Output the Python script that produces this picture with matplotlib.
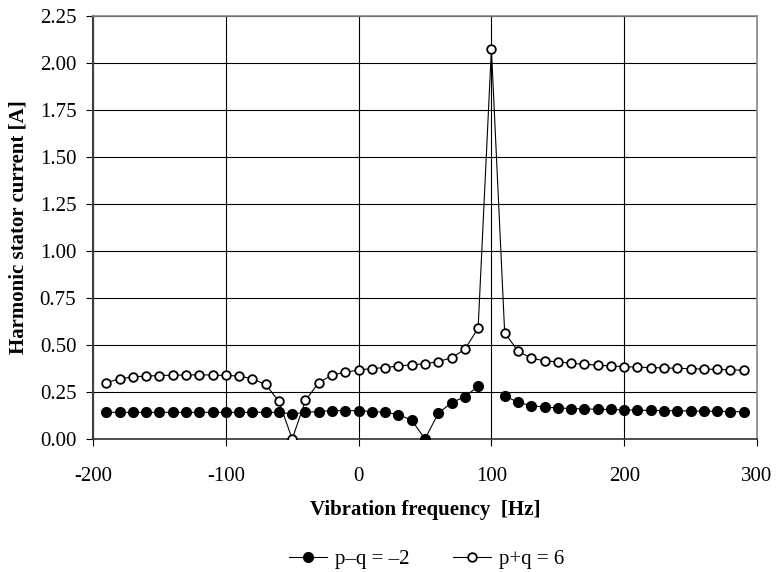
import numpy as np
import matplotlib
matplotlib.use("Agg")
import matplotlib.pyplot as plt

# vibration frequency [Hz]
freq = np.arange(-190, 300, 10)

# p-q = -2 (filled markers), no point at 100 Hz
pq_minus = [0.142, 0.142, 0.142, 0.142, 0.142, 0.142, 0.142, 0.142, 0.142, 0.142,
            0.142, 0.142, 0.142, 0.142, 0.133, 0.142, 0.146, 0.151, 0.151, 0.151,
            0.146, 0.142, 0.130, 0.100, 0.000, 0.137, 0.193, 0.225, 0.280, np.nan,
            0.230, 0.195, 0.177, 0.170, 0.165, 0.162, 0.160, 0.158, 0.157, 0.155,
            0.153, 0.152, 0.151, 0.150, 0.149, 0.148, 0.147, 0.146, 0.145]

# p+q = 6 (open markers)
pq_plus = [0.300, 0.320, 0.330, 0.335, 0.337, 0.340, 0.340, 0.342, 0.340, 0.338,
           0.335, 0.320, 0.290, 0.200, 0.000, 0.205, 0.300, 0.340, 0.355, 0.367,
           0.375, 0.380, 0.388, 0.395, 0.400, 0.412, 0.432, 0.477, 0.589, 2.075,
           0.565, 0.468, 0.430, 0.416, 0.410, 0.403, 0.397, 0.393, 0.388, 0.385,
           0.382, 0.380, 0.378, 0.376, 0.374, 0.372, 0.370, 0.368, 0.366]

xticks = [-200, -100, 0, 100, 200, 300]
xlabels = ['-200', '-100', '0', '100', '200', '300']

plt.rcParams['font.family'] = ['Liberation Serif', 'DejaVu Serif']
plt.rcParams['font.size'] = 15

fig = plt.figure(figsize=(7.76, 5.72), dpi=100)
ax = fig.add_axes([93 / 776, 1 - 439 / 572, (757 - 93) / 776, (439 - 16) / 572])

ax.plot(freq, pq_minus, color='black', lw=0.8, marker='o', ms=7,
        mfc='black', mec='black', label='p\u2013q = \u20132', zorder=3)
ax.plot(freq, pq_plus, color='black', lw=0.8, marker='o', ms=6.2,
        mfc='white', mec='black', mew=1.3, label='p+q = 6', zorder=3)

ax.set_xlim(-200, 300)
ax.set_ylim(0, 2.25)
ax.set_xticks(xticks)
ax.set_xticklabels(xlabels)
ax.set_yticks(np.arange(0, 2.26, 0.25))
ax.yaxis.set_major_formatter(matplotlib.ticker.FormatStrFormatter('%.2f'))
ax.grid(True, color='black', lw=0.8)
ax.set_axisbelow(True)
ax.tick_params(direction='out', length=5, width=0.8, labelsize=15)
ax.tick_params(axis='x', pad=15)
ax.tick_params(axis='y', pad=7)

ax.spines['left'].set_color('#404040')
ax.spines['left'].set_linewidth(1.5)
ax.spines['bottom'].set_color('#303030')
ax.spines['bottom'].set_linewidth(1.2)
for s in ['top', 'right']:
    ax.spines[s].set_color('#888888')
    ax.spines[s].set_linewidth(1.2)

ax.set_xlabel('Vibration frequency  [Hz]', fontweight='bold', fontsize=15, labelpad=10)
ax.set_ylabel('Harmonic stator current [A]', fontweight='bold', fontsize=15, labelpad=8)

fig.legend(loc='center', bbox_to_anchor=(0.55, 0.022), ncol=2, frameon=False,
           handlelength=1.8, handletextpad=0.4, columnspacing=2.1, fontsize=15)

fig.savefig('out.png', dpi=100)
